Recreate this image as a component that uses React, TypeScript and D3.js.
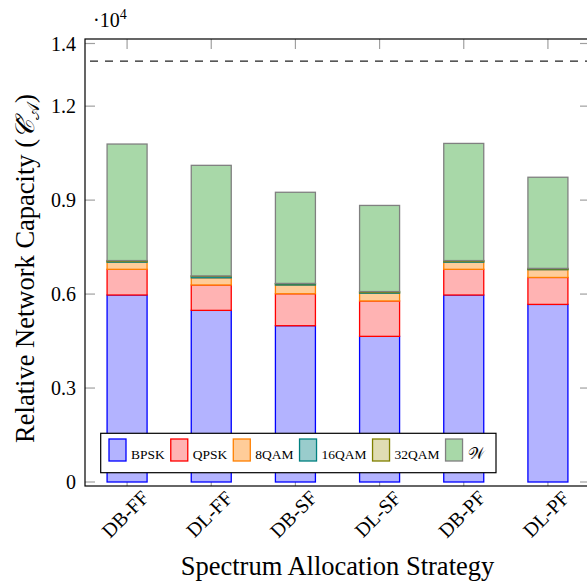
import React, { useMemo } from "react";
import * as d3 from "d3";

// values are in units of 10^4
const categories = ["DB-FF", "DL-FF", "DB-SF", "DL-SF", "DB-PF", "DL-PF"];
const bpsk = [0.597, 0.548, 0.499, 0.465, 0.597, 0.567];
const qpsk = [0.082, 0.081, 0.102, 0.113, 0.082, 0.086];
const qam8 = [0.023, 0.023, 0.028, 0.025, 0.023, 0.025];
const qam16 = [0.003, 0.005, 0.004, 0.003, 0.003, 0.002];
const qam32 = [0.002, 0.001, 0.001, 0.002, 0.002, 0.002];
const wasted = [0.372, 0.353, 0.291, 0.275, 0.374, 0.291];
const upperBound = [1.344];

const yTicks = [0, 0.3, 0.6, 0.9, 1.2, 1.4];
const yTickLabels = ["0", "0.3", "0.6", "0.9", "1.2", "1.4"];

const seriesKeys = ["BPSK", "QPSK", "8QAM", "16QAM", "32QAM", "W"];
const seriesLabels = ["BPSK", "QPSK", "8QAM", "16QAM", "32QAM", "𝒲"];
const fills = ["#b3b3ff", "#ffb3b3", "#ffcc99", "#99cccc", "#e0dcb3", "#a8d8a8"];
const strokes = ["#0000ff", "#ff0000", "#ff8000", "#008080", "#808000", "#808080"];

const W = 587;
const H = 587;
const plot = { left: 85, right: 590, top: 39, bottom: 486 };
const serif = "'Liberation Serif', 'DejaVu Serif', serif";

const App = () => {
  const rows = categories.map((c, i) => ({
    cat: c,
    BPSK: bpsk[i],
    QPSK: qpsk[i],
    "8QAM": qam8[i],
    "16QAM": qam16[i],
    "32QAM": qam32[i],
    W: wasted[i],
  }));

  const stacked = d3.stack<any>().keys(seriesKeys)(rows);

  const x = d3
    .scalePoint()
    .domain(categories)
    .range([plot.left, plot.right])
    .padding(0.5);

  // axis frame is a bit wider than the tick range (pgfplots enlargelimits)
  const y = d3.scaleLinear().domain([0, 1.4]).range([482, 43.5]);

  const barW = 40;

  // legend layout from measured text widths
  const legendItems = useMemo(() => {
    const canvas = document.createElement("canvas");
    const ctx = canvas.getContext("2d")!;
    let cx = 109;
    return seriesLabels.map((lab, i) => {
      const fs = lab === "𝒲" ? 16 : 13.5;
      ctx.font = `${fs}px ${serif}`;
      const item = { x: cx, label: lab, i, fs };
      const tw = ctx.measureText(lab).width;
      cx += 17 + 5 + tw + 6;
      return item;
    });
  }, []);

  return (
    <svg
      width={W}
      height={H}
      style={{ position: "absolute", left: 0, top: 0, background: "#fff" }}
      fontFamily={serif}
    >
      {/* ticks, drawn under the bars */}
      <g stroke="#a0a0a0" strokeWidth={1.2}>
        {yTicks.map((t) => (
          <g key={t}>
            <line x1={plot.left} x2={plot.left + 10} y1={y(t)} y2={y(t)} />
            <line x1={plot.right - 10} x2={plot.right} y1={y(t)} y2={y(t)} />
          </g>
        ))}
        {categories.map((c) => (
          <g key={c}>
            <line x1={x(c)} x2={x(c)} y1={plot.bottom} y2={plot.bottom - 10} />
            <line x1={x(c)} x2={x(c)} y1={plot.top} y2={plot.top + 10} />
          </g>
        ))}
      </g>

      {/* bound line */}
      {upperBound.map((v, i) => (
        <line
          key={i}
          x1={plot.left}
          x2={plot.right}
          y1={y(v)}
          y2={y(v)}
          stroke="#222"
          strokeWidth={1.3}
          strokeDasharray="8 7"
          strokeDashoffset={-5}
        />
      ))}

      {/* stacked bars */}
      {stacked.map((layer, si) => (
        <g key={layer.key} fill={fills[si]} stroke={strokes[si]} strokeWidth={1.3}>
          {layer.map((d, i) => (
            <rect
              key={i}
              x={(x(categories[i]) as number) - barW / 2}
              y={y(d[1])}
              width={barW}
              height={Math.max(0, y(d[0]) - y(d[1]))}
            />
          ))}
        </g>
      ))}

      {/* frame */}
      <rect
        x={plot.left}
        y={plot.top}
        width={plot.right - plot.left}
        height={plot.bottom - plot.top}
        fill="none"
        stroke="#000"
        strokeWidth={1.2}
      />

      {/* y tick labels */}
      <g fontSize={20} textAnchor="end" fill="#000">
        {yTicks.map((t, i) => (
          <text key={t} x={76} y={y(t)} dy="0.35em">
            {yTickLabels[i]}
          </text>
        ))}
      </g>

      {/* scale note */}
      <text x={93} y={27} fontSize={20}>
        {"·10"}
        <tspan fontSize={14} dy={-8}>
          4
        </tspan>
      </text>

      {/* x tick labels */}
      <g fontSize={20} textAnchor="middle">
        {categories.map((c) => (
          <text
            key={c}
            transform={`translate(${(x(c) as number) - 2},514) rotate(-45)`}
            dy="0.35em"
          >
            {c}
          </text>
        ))}
      </g>

      {/* axis titles */}
      <text x={(plot.left + plot.right) / 2} y={575} fontSize={26.5} textAnchor="middle">
        Spectrum Allocation Strategy
      </text>
      <text
        transform="translate(34,268.5) rotate(-90)"
        fontSize={26.5}
        textAnchor="middle"
      >
        {"Relative Network Capacity ("}
        <tspan fontStyle="italic">{"𝒞̂"}</tspan>
        <tspan fontSize={18} dy={5}>
          {"𝒜"}
        </tspan>
        <tspan dy={-5}>{")"}</tspan>
      </text>

      {/* legend */}
      <rect x={100.7} y={433.3} width={395.3} height={39.4} fill="#fff" stroke="#000" strokeWidth={1.2} />
      {legendItems.map((it) => (
        <g key={it.label}>
          <rect
            x={it.x}
            y={439}
            width={17}
            height={22}
            fill={fills[it.i]}
            stroke={strokes[it.i]}
            strokeWidth={1.3}
          />
          <text x={it.x + 22} y={459} fontSize={it.fs}>
            {it.label}
          </text>
        </g>
      ))}
    </svg>
  );
};

export default App;
